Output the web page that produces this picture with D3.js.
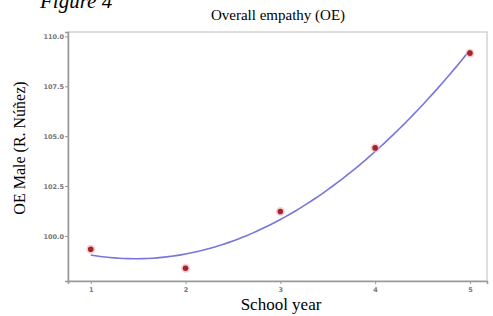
<!DOCTYPE html>
<html><head><meta charset="utf-8">
<script src="https://cdn.jsdelivr.net/npm/d3@7"></script>
<style>body{margin:0;background:#fff}svg{display:block}</style>
</head><body>
<svg id="c" width="493" height="316"></svg>
<script>
const schoolYears = [1, 2, 3, 4, 5];
const oeMale = [99.33, 98.38, 101.22, 104.41, 109.16];
const yTicks = [100, 102.5, 105, 107.5, 110];
const xTicks = [1, 2, 3, 4, 5];

const svg = d3.select("#c");
const L = 68, R = 487, T = 32, B = 281;
const x = d3.scaleLinear().domain([0.76, 5.18]).range([L, R]);
const y = d3.scaleLinear().domain([97.74, 110.22]).range([B, T]);

// least squares quadratic fit
function quadFit(xs, ys) {
  const n = xs.length;
  let S = [0,0,0,0,0], Sy = [0,0,0];
  for (let i = 0; i < n; i++) {
    for (let k = 0; k < 5; k++) S[k] += Math.pow(xs[i], k);
    for (let k = 0; k < 3; k++) Sy[k] += ys[i] * Math.pow(xs[i], k);
  }
  const A = [[S[0],S[1],S[2],Sy[0]],[S[1],S[2],S[3],Sy[1]],[S[2],S[3],S[4],Sy[2]]];
  for (let i = 0; i < 3; i++) {
    for (let j = i + 1; j < 3; j++) {
      const f = A[j][i] / A[i][i];
      for (let k = i; k < 4; k++) A[j][k] -= f * A[i][k];
    }
  }
  const c = [0,0,0];
  for (let i = 2; i >= 0; i--) {
    let s = A[i][3];
    for (let k = i + 1; k < 3; k++) s -= A[i][k] * c[k];
    c[i] = s / A[i][i];
  }
  return t => c[0] + c[1]*t + c[2]*t*t;
}
const fit = quadFit(schoolYears, oeMale);
const fitPts = d3.range(1, 5.0001, 0.05).map(t => [t, fit(t)]);

// frame
svg.append("rect").attr("x", L).attr("y", T).attr("width", R - L).attr("height", B - T)
  .attr("fill", "none").attr("stroke", "#d4d4d4").attr("stroke-width", 1.5);

// axes
const gy = svg.append("g").attr("transform", `translate(${L},0)`)
  .call(d3.axisLeft(y).tickValues(yTicks).tickFormat(d3.format(".1f")).tickSize(3).tickPadding(1));
const gx = svg.append("g").attr("transform", `translate(0,${B})`)
  .call(d3.axisBottom(x).tickValues(xTicks).tickFormat(d3.format("d")).tickSize(3).tickPadding(3));
[gy, gx].forEach(g => {
  g.select(".domain").attr("stroke", "#999").attr("stroke-width", 1.5);
  g.selectAll(".tick line").attr("stroke", "#999");
  g.selectAll(".tick text").attr("fill", "#777").style("font-family", "DejaVu Sans")
    .style("font-size", "6.5px").style("font-weight", "bold");
});

// fitted curve
svg.append("path").datum(fitPts)
  .attr("fill", "none").attr("stroke", "#7676dc").attr("stroke-width", 1.6)
  .attr("d", d3.line().x(d => x(d[0])).y(d => y(d[1])).curve(d3.curveBasis));

// points
const pts = schoolYears.map((s, i) => [s, oeMale[i]]);
svg.append("g").selectAll("circle.h").data(pts).join("circle")
  .attr("cx", d => x(d[0])).attr("cy", d => y(d[1])).attr("r", 4.5)
  .attr("fill", "#f3b0b0").attr("opacity", 0.6);
svg.append("g").selectAll("circle.p").data(pts).join("circle")
  .attr("cx", d => x(d[0])).attr("cy", d => y(d[1])).attr("r", 2.8)
  .attr("fill", "#a3262e");

// texts
const serif = "'Liberation Serif', 'DejaVu Serif', serif";
svg.append("text").attr("x", 278).attr("y", 20).attr("text-anchor", "middle")
  .style("font-family", serif).style("font-size", "15px").text("Overall empathy (OE)");
svg.append("text").attr("x", 281).attr("y", 310).attr("text-anchor", "middle")
  .style("font-family", serif).style("font-size", "17px").text("School year");
svg.append("text").attr("transform", "translate(25,148) rotate(-90)").attr("text-anchor", "middle")
  .style("font-family", serif).style("font-size", "16px").text("OE Male (R. Núñez)");
svg.append("text").attr("x", 40).attr("y", 8)
  .style("font-family", serif).style("font-size", "21px").style("font-style", "italic").text("Figure 4");
</script>
</body></html>
